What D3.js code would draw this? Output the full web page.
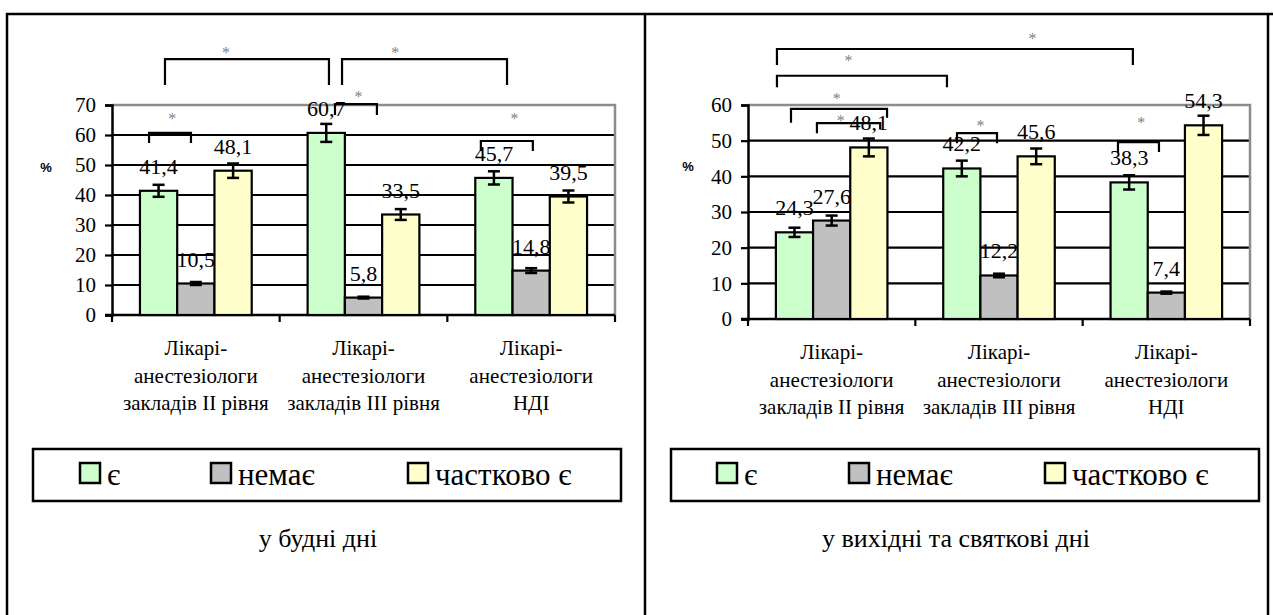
<!DOCTYPE html>
<html>
<head>
<meta charset="utf-8">
<script src="https://cdn.jsdelivr.net/npm/d3@7/dist/d3.min.js"></script>
<style>
  html, body { margin: 0; padding: 0; background: #fff; }
  svg { display: block; }
  .serif { font-family: "Liberation Serif", "DejaVu Serif", Tinos, "Times New Roman", Times, serif; }
</style>
</head>
<body>
<svg id="chart" width="1273" height="615"></svg>
<script>
// Categories (multi-line axis labels) and series names
const categories = [
  ["Лікарі-", "анестезіологи", "закладів II рівня"],
  ["Лікарі-", "анестезіологи", "закладів III рівня"],
  ["Лікарі-", "анестезіологи", "НДІ"]
];
const seriesNames = ["є", "немає", "частково є"];
const seriesColors = ["#ccffcc", "#c0c0c0", "#ffffcc"];

// Weekdays, %
const weekdayYes = [41.4, 60.7, 45.7];
const weekdayNo = [10.5, 5.8, 14.8];
const weekdayPartial = [48.1, 33.5, 39.5];
const weekdayYesErr = [2.0, 3.0, 2.2];
const weekdayNoErr = [0.5, 0.3, 0.8];
const weekdayPartialErr = [2.4, 1.8, 2.0];
const weekdayTicks = [0, 10, 20, 30, 40, 50, 60, 70];

// Weekends and holidays, %
const weekendYes = [24.3, 42.2, 38.3];
const weekendNo = [27.6, 12.2, 7.4];
const weekendPartial = [48.1, 45.6, 54.3];
const weekendYesErr = [1.3, 2.2, 2.0];
const weekendNoErr = [1.4, 0.5, 0.3];
const weekendPartialErr = [2.5, 2.2, 2.7];
const weekendTicks = [0, 10, 20, 30, 40, 50, 60];

// Significance brackets: x in category units (0..3), y in % units
// [xLeft, xRight, yTop, yLegLeft, yLegRight, xStar, yStar]
const weekdayBrackets = [
  [0.316, 1.294, 85.3, 76.7, 76.7, 0.68, 88.0],
  [1.372, 2.356, 85.3, 76.7, 76.7, 1.69, 88.0],
  [0.221, 0.471, 60.7, 57.3, 57.3, 0.36, 66.0],
  [1.330, 1.580, 70.3, 66.7, 66.7, 1.47, 73.3],
  [2.200, 2.510, 58.0, 54.7, 54.7, 2.40, 66.0]
];
const weekendBrackets = [
  [0.173, 2.300, 75.7, 71.2, 71.2, 1.70, 79.0],
  [0.173, 1.189, 68.2, 65.0, 65.0, 0.60, 72.9],
  [0.257, 0.831, 58.9, 55.0, 56.4, 0.53, 62.2],
  [0.412, 0.790, 54.9, 52.1, 53.3, 0.555, 56.0],
  [1.249, 1.488, 52.1, 49.3, 49.3, 1.39, 54.8],
  [2.211, 2.456, 49.6, 46.8, 46.8, 2.35, 55.6]
];

const fmt = v => d3.format(".1f")(v).replace(".", ",");

const svg = d3.select("#chart");
svg.append("rect").attr("width", 1273).attr("height", 615).attr("fill", "#fff");

// Table frame around both panels
const frame = svg.append("g").attr("stroke", "#000").attr("stroke-width", 2.5);
frame.append("line").attr("x1", 6).attr("x2", 1273).attr("y1", 14).attr("y2", 14);
frame.append("line").attr("x1", 7).attr("x2", 7).attr("y1", 13).attr("y2", 615);
frame.append("line").attr("x1", 645).attr("x2", 645).attr("y1", 13).attr("y2", 615);
frame.append("line").attr("x1", 1268).attr("x2", 1268).attr("y1", 13).attr("y2", 615);

function serifText(sel, size) {
  return sel.attr("class", "serif").attr("font-family", null)
    .style("font-size", size + "px").style("fill", "#000");
}

function drawPanel(cfg) {
  const g = svg.append("g");
  const [x0, x1] = cfg.xRange;
  const [yBottom, yTop] = cfg.yRange;
  const y = d3.scaleLinear().domain([0, cfg.yMax]).range([yBottom, yTop]);
  const x = d3.scaleBand().domain(d3.range(categories.length)).range([x0, x1]).padding(0);
  const xs = d3.scaleBand().domain(d3.range(seriesNames.length))
    .range([0, x.bandwidth()]).paddingInner(0).paddingOuter(0.75);
  const xu = d3.scaleLinear().domain([0, categories.length]).range([x0, x1]);

  // horizontal gridlines
  g.append("g").selectAll("line")
    .data(cfg.ticks.filter(t => t > 0 && t < cfg.yMax))
    .join("line")
    .attr("x1", x0).attr("x2", x1)
    .attr("y1", d => y(d)).attr("y2", d => y(d))
    .attr("stroke", "#000").attr("stroke-width", 2.2);

  // plot area top and right border
  g.append("path")
    .attr("d", `M${x0},${y(cfg.yMax)}H${x1}V${y(0)}`)
    .attr("fill", "none").attr("stroke", "#8c8c8c").attr("stroke-width", 2.5);

  // y axis
  const yAxis = d3.axisLeft(y).tickValues(cfg.ticks).tickSize(7).tickPadding(9);
  const ya = g.append("g").attr("transform", `translate(${x0},0)`).call(yAxis);
  ya.attr("font-family", null).attr("font-size", null);
  ya.select(".domain").attr("stroke-width", 2.5);
  ya.selectAll(".tick line").attr("stroke-width", 2.2);
  serifText(ya.selectAll(".tick text"), 21);

  // x axis with boundary ticks
  const xa = g.append("g").attr("transform", `translate(0,${y(0)})`);
  xa.append("line").attr("x1", x0 - 7).attr("x2", x1).attr("y1", 0).attr("y2", 0)
    .attr("stroke", "#000").attr("stroke-width", 2.5);
  xa.selectAll("line.b").data(d3.range(categories.length + 1)).join("line")
    .attr("class", "b")
    .attr("x1", d => xu(d)).attr("x2", d => xu(d)).attr("y1", 0).attr("y2", 7)
    .attr("stroke", "#000").attr("stroke-width", 2.2);
  const cl = serifText(xa.selectAll("text.cat").data(categories).join("text")
    .attr("text-anchor", "middle"), 21);
  cl.each(function (lines, i) {
    d3.select(this).selectAll("tspan").data(lines).join("tspan")
      .attr("x", x(i) + x.bandwidth() / 2)
      .attr("y", (d, k) => 40 + k * 27.5)
      .text(d => d);
  });

  // bars
  const rows = [];
  cfg.series.forEach((vals, s) => vals.forEach((v, c) => rows.push({ c, s, v, e: cfg.errors[s][c] })));
  g.append("g").selectAll("rect").data(rows).join("rect")
    .attr("x", d => x(d.c) + xs(d.s))
    .attr("width", xs.bandwidth())
    .attr("y", d => y(d.v))
    .attr("height", d => y(0) - y(d.v))
    .attr("fill", d => seriesColors[d.s])
    .attr("stroke", "#000").attr("stroke-width", 2.2);

  // error bars
  const eb = g.append("g").attr("stroke", "#000").attr("stroke-width", 2.5);
  rows.forEach(d => {
    const cx = x(d.c) + xs(d.s) + xs.bandwidth() / 2;
    eb.append("line").attr("x1", cx).attr("x2", cx).attr("y1", y(d.v + d.e)).attr("y2", y(d.v - d.e));
    eb.append("line").attr("x1", cx - 6).attr("x2", cx + 6).attr("y1", y(d.v + d.e)).attr("y2", y(d.v + d.e));
    eb.append("line").attr("x1", cx - 6).attr("x2", cx + 6).attr("y1", y(d.v - d.e)).attr("y2", y(d.v - d.e));
  });

  // value labels
  serifText(g.append("g").selectAll("text").data(rows).join("text")
    .attr("x", d => x(d.c) + xs(d.s) + xs.bandwidth() / 2)
    .attr("y", d => y(d.v) - 17)
    .attr("text-anchor", "middle")
    .text(d => fmt(d.v)), 22);

  // significance brackets
  const br = g.append("g");
  cfg.brackets.forEach(b => {
    const [xl, xr, yt, yl, yr, sx, sy] = b;
    br.append("path")
      .attr("d", `M${xu(xl)},${y(yl)}V${y(yt)}H${xu(xr)}V${y(yr)}`)
      .attr("fill", "none").attr("stroke", "#000").attr("stroke-width", 2.2);
    serifText(br.append("text").attr("x", xu(sx)).attr("y", y(sy) + 7)
      .attr("text-anchor", "middle").text("*"), 16).style("fill", "#7f7f7f");
  });

  // y axis unit label
  g.append("text").attr("x", cfg.unitPos[0]).attr("y", cfg.unitPos[1])
    .attr("text-anchor", "middle")
    .style("font-family", "'Liberation Sans', Arial, sans-serif")
    .style("font-size", "13px").style("font-weight", "bold").style("fill", "#000")
    .text("%");

  // legend
  const [lx, ly, lw, lh] = cfg.legendBox;
  const lg = g.append("g");
  lg.append("rect").attr("x", lx).attr("y", ly).attr("width", lw).attr("height", lh)
    .attr("fill", "#fff").attr("stroke", "#000").attr("stroke-width", 2.5);
  seriesNames.forEach((name, i) => {
    const sxp = cfg.legendItems[i];
    lg.append("rect").attr("x", sxp).attr("y", ly + 14).attr("width", 20).attr("height", 20)
      .attr("fill", seriesColors[i]).attr("stroke", "#000").attr("stroke-width", 2.5);
    serifText(lg.append("text").attr("x", sxp + 27).attr("y", ly + 36).text(name), 31);
  });

  // panel caption
  serifText(g.append("text").attr("x", cfg.captionPos[0]).attr("y", cfg.captionPos[1])
    .attr("text-anchor", "middle").text(cfg.caption), 26);
}

drawPanel({
  xRange: [112, 615], yRange: [315, 105], yMax: 70, ticks: weekdayTicks,
  series: [weekdayYes, weekdayNo, weekdayPartial],
  errors: [weekdayYesErr, weekdayNoErr, weekdayPartialErr],
  brackets: weekdayBrackets,
  unitPos: [46, 172],
  legendBox: [33, 449, 588, 52], legendItems: [80, 211, 408],
  captionPos: [318, 547], caption: "у будні дні"
});

drawPanel({
  xRange: [748, 1250], yRange: [319, 105], yMax: 60, ticks: weekendTicks,
  series: [weekendYes, weekendNo, weekendPartial],
  errors: [weekendYesErr, weekendNoErr, weekendPartialErr],
  brackets: weekendBrackets,
  unitPos: [688, 171],
  legendBox: [671, 449, 588, 52], legendItems: [717, 849, 1045],
  captionPos: [956, 547], caption: "у вихідні та святкові дні"
});
</script>
</body>
</html>
